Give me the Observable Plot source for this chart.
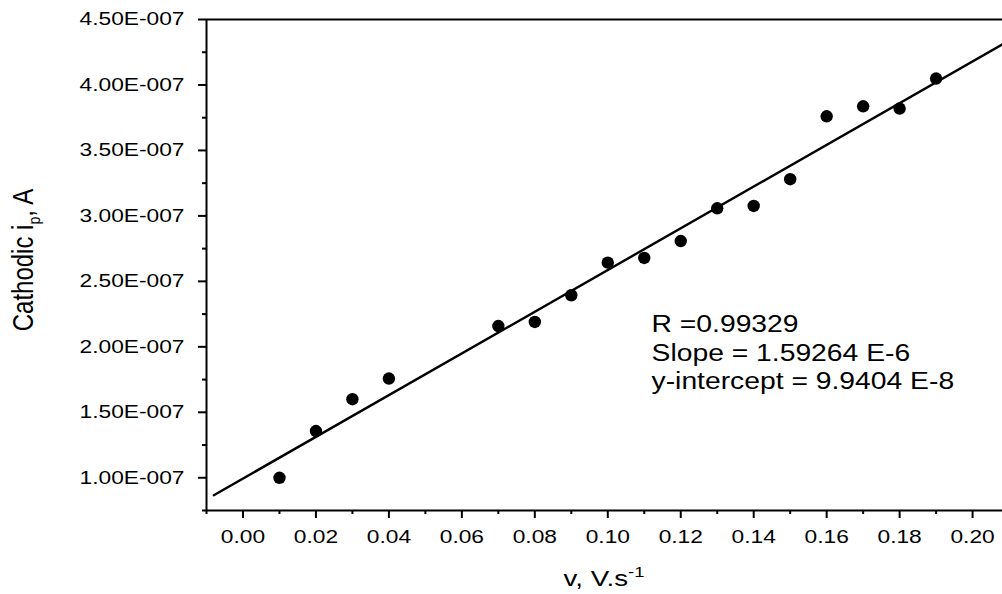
<!DOCTYPE html>
<html><head><meta charset="utf-8">
<script src="https://cdn.jsdelivr.net/npm/d3@7"></script>
<script src="https://cdn.jsdelivr.net/npm/@observablehq/plot@0.6"></script>
<style>
html,body{margin:0;padding:0;background:#fff;overflow:hidden}
svg{display:block}
</style></head><body><div id="chart"></div>
<script>
// Scan rate (V/s) and cathodic peak current (A)
const scanRates = [0.01,0.02,0.03,0.04,0.07,0.08,0.09,0.10,0.11,0.12,0.13,0.14,0.15,0.16,0.17,0.18,0.19];
const peakCurrents = [1.00e-7,1.357e-7,1.600e-7,1.758e-7,2.159e-7,2.190e-7,2.394e-7,2.643e-7,2.679e-7,2.808e-7,3.058e-7,3.076e-7,3.280e-7,3.761e-7,3.837e-7,3.820e-7,4.049e-7];
// Linear fit as reported in the chart
const fitSlope = 1.59264e-6;
const fitIntercept = 9.9404e-8;
const fitRange = [-0.008, 0.2082];
// Ticks
const xMajorTicks = [0.00,0.02,0.04,0.06,0.08,0.10,0.12,0.14,0.16,0.18,0.20];
const xMinorTicks = [-0.01,0.01,0.03,0.05,0.07,0.09,0.11,0.13,0.15,0.17,0.19];
const yMajorTicks = [1.0e-7,1.5e-7,2.0e-7,2.5e-7,3.0e-7,3.5e-7,4.0e-7,4.5e-7];
const yMinorTicks = [0.75e-7,1.25e-7,1.75e-7,2.25e-7,2.75e-7,3.25e-7,3.75e-7,4.25e-7];
// Texts
const annotationLines = ["R =0.99329","Slope = 1.59264 E-6","y-intercept = 9.9404 E-8"];
const xTitleMain = "v, V.s", xTitleSup = "-1";
const yTitleMain = "Cathodic i", yTitleSub = "p", yTitleTail = ", A";

const STRETCH = 1.23;
const points = scanRates.map((v,i)=>({v, ip: peakCurrents[i]}));
const fit = fitRange.map(v=>({v, ip: fitSlope*v + fitIntercept}));

const plot = Plot.plot({
  width: 1002, height: 594,
  marginTop: 19, marginBottom: 84, marginLeft: 206, marginRight: 0,
  x: {domain: [-0.01, 0.2082], label: null},
  y: {domain: [0.75e-7, 4.5e-7], label: null},
  style: {fontFamily: "'Liberation Sans', Arial, sans-serif", fontSize: "18.5px", color: "#000", background: "#fff"},
  marks: [
    Plot.ruleY([4.5e-7, 0.75e-7], {strokeWidth: 2}),
    Plot.ruleX([-0.01], {strokeWidth: 2}),
    Plot.axisX(xMajorTicks, {anchor: "bottom", tickSize: 8, tickPadding: 11, tickFormat: d3.format(".2f"), strokeWidth: 2, label: null}),
    Plot.axisX(xMinorTicks, {anchor: "bottom", tickSize: 4, tickFormat: () => "", strokeWidth: 2, label: null}),
    Plot.axisY(yMajorTicks, {anchor: "left", tickSize: 8, tickPadding: 14, tickFormat: v => (v*1e7).toFixed(2) + "E-007", strokeWidth: 2, label: null}),
    Plot.axisY(yMinorTicks, {anchor: "left", tickSize: 4, tickFormat: () => "", strokeWidth: 2, label: null}),
    Plot.line(fit, {x: "v", y: "ip", stroke: "#000", strokeWidth: 2.4}),
    Plot.dot(points, {x: "v", y: "ip", r: 6.2, fill: "#000"}),
    Plot.text([annotationLines.join("\n")], {x: 0.112, y: 2.274e-7, text: d => d, textAnchor: "start", lineAnchor: "top", lineHeight: 1.26, fontSize: 23, fill: "#000"})
  ]
});

// horizontally widen glyphs as in the reference
plot.querySelectorAll("text").forEach(t => {
  const tr = t.getAttribute("transform");
  if (tr) t.setAttribute("transform", tr + ` scale(${STRETCH},1)`);
});

const s = d3.select(plot);
const xt = s.append("text")
  .attr("transform", `translate(604,586) scale(${STRETCH},1)`)
  .attr("text-anchor", "middle").attr("fill", "#000")
  .style("font-size", "22.5px");
xt.append("tspan").text(xTitleMain);
xt.append("tspan").attr("dy", -9).style("font-size", "15px").text(xTitleSup);

const yt = s.append("text")
  .attr("transform", `translate(33,260) scale(${STRETCH},1) rotate(-90)`)
  .attr("text-anchor", "middle").attr("fill", "#000")
  .style("font-size", "24px");
yt.append("tspan").text(yTitleMain);
yt.append("tspan").attr("dy", 6).style("font-size", "14px").text(yTitleSub);
yt.append("tspan").attr("dy", -6).text(yTitleTail);

document.getElementById("chart").appendChild(plot);
</script></body></html>
